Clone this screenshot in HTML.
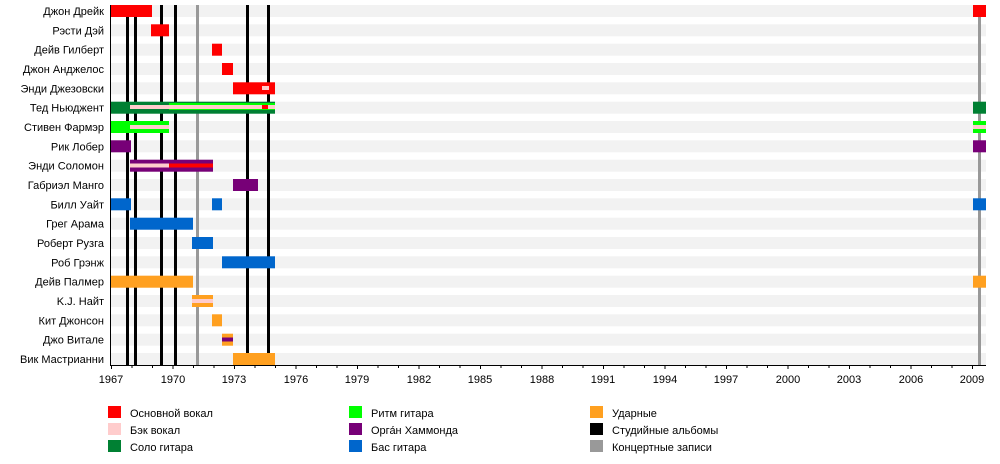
<!DOCTYPE html>
<html><head><meta charset="utf-8"><style>
html,body{margin:0;padding:0;background:#fff}
svg{display:block;font-family:"Liberation Sans",Arial,sans-serif;font-size:11px}
</style></head><body>
<svg width="1000" height="464" viewBox="0 0 1000 464" xmlns="http://www.w3.org/2000/svg">
<g fill="#f2f2f2">
<rect x="111" y="5" width="875" height="12"/><rect x="111" y="24.3" width="875" height="12"/><rect x="111" y="43.7" width="875" height="12"/><rect x="111" y="63" width="875" height="12"/><rect x="111" y="82.3" width="875" height="12"/><rect x="111" y="101.7" width="875" height="12"/><rect x="111" y="121" width="875" height="12"/><rect x="111" y="140.3" width="875" height="12"/><rect x="111" y="159.7" width="875" height="12"/><rect x="111" y="179" width="875" height="12"/><rect x="111" y="198.3" width="875" height="12"/><rect x="111" y="217.7" width="875" height="12"/><rect x="111" y="237" width="875" height="12"/><rect x="111" y="256.3" width="875" height="12"/><rect x="111" y="275.7" width="875" height="12"/><rect x="111" y="295" width="875" height="12"/><rect x="111" y="314.3" width="875" height="12"/><rect x="111" y="333.7" width="875" height="12"/><rect x="111" y="353" width="875" height="12"/>
</g>
<g fill="#000"><rect x="126" y="5" width="3" height="360"/><rect x="134" y="5" width="3" height="360"/><rect x="160" y="5" width="3" height="360"/><rect x="174" y="5" width="3" height="360"/><rect x="246" y="5" width="3" height="360"/><rect x="267" y="5" width="3" height="360"/></g>
<g fill="#999"><rect x="196" y="5" width="3" height="360"/><rect x="978" y="5" width="3" height="360"/></g>
<!-- bars -->
<rect x="111" y="5" width="41" height="12" fill="#f00"/><rect x="973" y="5" width="13" height="12" fill="#f00"/>
<rect x="151" y="24.3" width="18" height="12" fill="#f00"/>
<rect x="212" y="43.7" width="10" height="12" fill="#f00"/>
<rect x="222" y="63" width="11" height="12" fill="#f00"/>
<rect x="233" y="82.3" width="42" height="12" fill="#f00"/><rect x="262" y="86" width="7" height="4" fill="#fcc"/>
<rect x="111" y="101.7" width="164" height="12" fill="#008033"/><rect x="169" y="103" width="106" height="7" fill="#0f0"/><rect x="130" y="105" width="145" height="4" fill="#fcc"/><rect x="262" y="105" width="6" height="4" fill="#f00"/>
<rect x="973" y="101.7" width="13" height="12" fill="#008033"/>
<rect x="111" y="121" width="58" height="12" fill="#0f0"/><rect x="130" y="125" width="39" height="4" fill="#fcc"/>
<rect x="973" y="121" width="13" height="12" fill="#0f0"/><rect x="973" y="125" width="13" height="4" fill="#fcc"/>
<rect x="111" y="140.3" width="20" height="12" fill="#770077"/><rect x="973" y="140.3" width="13" height="12" fill="#770077"/>
<rect x="130" y="159.7" width="83" height="12" fill="#770077"/><rect x="130" y="163.5" width="39" height="4" fill="#fcc"/><rect x="169" y="163.5" width="44" height="4" fill="#f00"/>
<rect x="233" y="179" width="25" height="12" fill="#770077"/>
<rect x="111" y="198.3" width="20" height="12" fill="#0066cc"/><rect x="212" y="198.3" width="10" height="12" fill="#0066cc"/><rect x="973" y="198.3" width="13" height="12" fill="#0066cc"/>
<rect x="130" y="217.7" width="63" height="12" fill="#0066cc"/>
<rect x="192" y="237" width="21" height="12" fill="#0066cc"/>
<rect x="222" y="256.3" width="53" height="12" fill="#0066cc"/>
<rect x="111" y="275.7" width="82" height="12" fill="#ffa020"/><rect x="973" y="275.7" width="13" height="12" fill="#ffa020"/>
<rect x="192" y="295" width="21" height="12" fill="#ffa020"/><rect x="192" y="299" width="21" height="4" fill="#fcc"/>
<rect x="212" y="314.3" width="10" height="12" fill="#ffa020"/>
<rect x="222" y="333.7" width="11" height="12" fill="#ffa020"/><rect x="222" y="337.5" width="11" height="4" fill="#770077"/>
<rect x="233" y="353" width="42" height="12" fill="#ffa020"/>
<!-- axes -->
<rect x="110" y="5" width="1" height="361" fill="#000"/>
<rect x="110" y="365" width="876" height="1" fill="#000"/>
<g stroke="#000" stroke-width="1" id="ticks"></g>
<g fill="#000" text-anchor="end">
<text x="104" y="15">Джон Дрейк</text><text x="104" y="34.3">Рэсти Дэй</text><text x="104" y="53.7">Дейв Гилберт</text><text x="104" y="73">Джон Анджелос</text><text x="104" y="92.3">Энди Джезовски</text><text x="104" y="111.7">Тед Ньюджент</text><text x="104" y="131">Стивен Фармэр</text><text x="104" y="150.3">Рик Лобер</text><text x="104" y="169.7">Энди Соломон</text><text x="104" y="189">Габриэл Манго</text><text x="104" y="208.3">Билл Уайт</text><text x="104" y="227.7">Грег Арама</text><text x="104" y="247">Роберт Рузга</text><text x="104" y="266.3">Роб Грэнж</text><text x="104" y="285.7">Дейв Палмер</text><text x="104" y="305">K.J. Найт</text><text x="104" y="324.3">Кит Джонсон</text><text x="104" y="343.7">Джо Витале</text><text x="104" y="363">Вик Мастрианни</text>
</g>
<g fill="#000" text-anchor="middle" id="labels"></g>
<!-- legend -->
<rect x="108" y="406" width="13" height="12" fill="#f00"/><rect x="108" y="423" width="13" height="12" fill="#fcc"/><rect x="108" y="440" width="13" height="12" fill="#008033"/>
<rect x="349" y="406" width="13" height="12" fill="#0f0"/><rect x="349" y="423" width="13" height="12" fill="#770077"/><rect x="349" y="440" width="13" height="12" fill="#0066cc"/>
<rect x="590" y="406" width="13" height="12" fill="#ffa020"/><rect x="590" y="423" width="13" height="12" fill="#000"/><rect x="590" y="440" width="13" height="12" fill="#999"/>
<g fill="#000">
<text x="130" y="417">Основной вокал</text><text x="130" y="434">Бэк вокал</text><text x="130" y="451">Соло гитара</text>
<text x="371" y="417">Ритм гитара</text><text x="371" y="434">Орга́н Хаммонда</text><text x="371" y="451">Бас гитара</text>
<text x="612" y="417">Ударные</text><text x="612" y="434">Студийные альбомы</text><text x="612" y="451">Концертные записи</text>
</g>
<g stroke="#000">
<path d="M111.5 366v3M132 366v2M152.5 366v2M173 366v3M193.5 366v2M214 366v2M234.5 366v3M255 366v2M275.5 366v2M296 366v3M316.5 366v2M337 366v2M357.5 366v3M378 366v2M398.5 366v2M419 366v3M439.5 366v2M460 366v2M480.5 366v3M501 366v2M521.5 366v2M542 366v3M562.5 366v2M583 366v2M603.5 366v3M624 366v2M644.5 366v2M665 366v3M685.5 366v2M706 366v2M726.5 366v3M747 366v2M767.5 366v2M788 366v3M808.5 366v2M829 366v2M849.5 366v3M870 366v2M890.5 366v2M911 366v3M931.5 366v2M952 366v2M972.5 366v3"/>
</g>
<g fill="#000" text-anchor="middle">
<text x="111" y="383">1967</text><text x="173" y="383">1970</text><text x="234" y="383">1973</text><text x="296" y="383">1976</text><text x="357" y="383">1979</text><text x="419" y="383">1982</text><text x="480" y="383">1985</text><text x="542" y="383">1988</text><text x="603" y="383">1991</text><text x="665" y="383">1994</text><text x="726" y="383">1997</text><text x="788" y="383">2000</text><text x="849" y="383">2003</text><text x="911" y="383">2006</text><text x="972" y="383">2009</text>
</g>
</svg>
</body></html>
